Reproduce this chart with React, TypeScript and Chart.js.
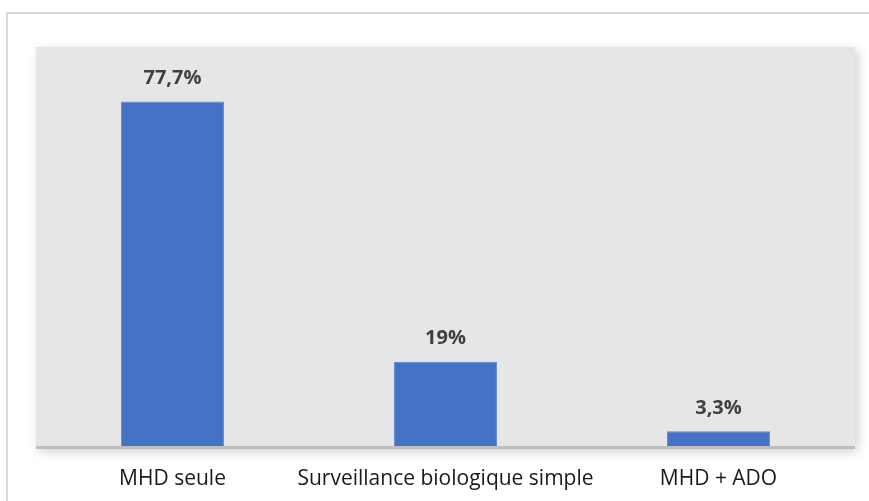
import React, { useEffect, useRef } from "react";
import { Chart, registerables } from "chart.js";

Chart.register(...registerables);

const categories = ["MHD seule", "Surveillance biologique simple", "MHD + ADO"];
const values = [77.7, 19, 3.3];
const valueLabels = ["77,7%", "19%", "3,3%"];

const plotBg = {
  id: "plotBg",
  beforeDraw(chart: any) {
    const { ctx, chartArea } = chart;
    ctx.save();
    ctx.shadowColor = "rgba(0,0,0,0.18)";
    ctx.shadowBlur = 10;
    ctx.shadowOffsetX = 3;
    ctx.shadowOffsetY = 3;
    ctx.fillStyle = "#e6e6e6";
    ctx.fillRect(chartArea.left, chartArea.top, chartArea.right - chartArea.left, chartArea.bottom - chartArea.top + 3);
    ctx.restore();
    ctx.save();
    ctx.fillStyle = "#bfbfbf";
    ctx.fillRect(chartArea.left, chartArea.bottom, chartArea.right - chartArea.left, 3);
    ctx.restore();
  },
};

const valueLabelPlugin = {
  id: "valueLabels",
  afterDatasetsDraw(chart: any) {
    const { ctx } = chart;
    const meta = chart.getDatasetMeta(0);
    ctx.save();
    ctx.fillStyle = "#404040";
    ctx.font = "bold 20px 'Open Sans'";
    ctx.textAlign = "center";
    ctx.textBaseline = "middle";
    meta.data.forEach((bar: any, i: number) => {
      ctx.fillText(valueLabels[i], bar.x, bar.y - 23);
    });
    ctx.restore();
  },
};

export default function App() {
  const ref = useRef<HTMLCanvasElement>(null);
  useEffect(() => {
    if (!ref.current) return;
    const chart = new Chart(ref.current, {
      type: "bar",
      data: {
        labels: categories,
        datasets: [
          {
            data: values,
            backgroundColor: "#4472c4",
            borderColor: "#5b86d0",
            borderWidth: 1,
            barPercentage: 0.377,
            categoryPercentage: 1,
          },
        ],
      },
      options: {
        animation: false,
        responsive: false,
        maintainAspectRatio: false,
        layout: { padding: { left: 36, right: 14, top: 47, bottom: 0 } },
        plugins: { legend: { display: false }, tooltip: { enabled: false } },
        scales: {
          x: {
            grid: { display: false, drawTicks: false },
            border: { display: false },
            ticks: {
              color: "#1a1a1a",
              font: { family: "'Open Sans'", size: 21 },
              padding: 20,
              maxRotation: 0,
              autoSkip: false,
            },
            afterFit(scale: any) {
              scale.height = 55;
            },
          },
          y: { display: false, min: 0, max: 90 },
        },
      },
      plugins: [plotBg, valueLabelPlugin],
    });
    return () => chart.destroy();
  }, []);
  return (
    <div style={{ position: "fixed", left: 0, top: 0, width: 869, height: 501, background: "#fff" }}>
      <div
        style={{
          position: "absolute",
          left: 6,
          top: 12,
          right: 0,
          bottom: 0,
          borderTop: "2px solid #d9d9d9",
          borderLeft: "2px solid #d9d9d9",
        }}
      />
      <canvas ref={ref} width={869} height={501} style={{ position: "absolute", left: 0, top: 0, width: 869, height: 501 }} />
    </div>
  );
}
